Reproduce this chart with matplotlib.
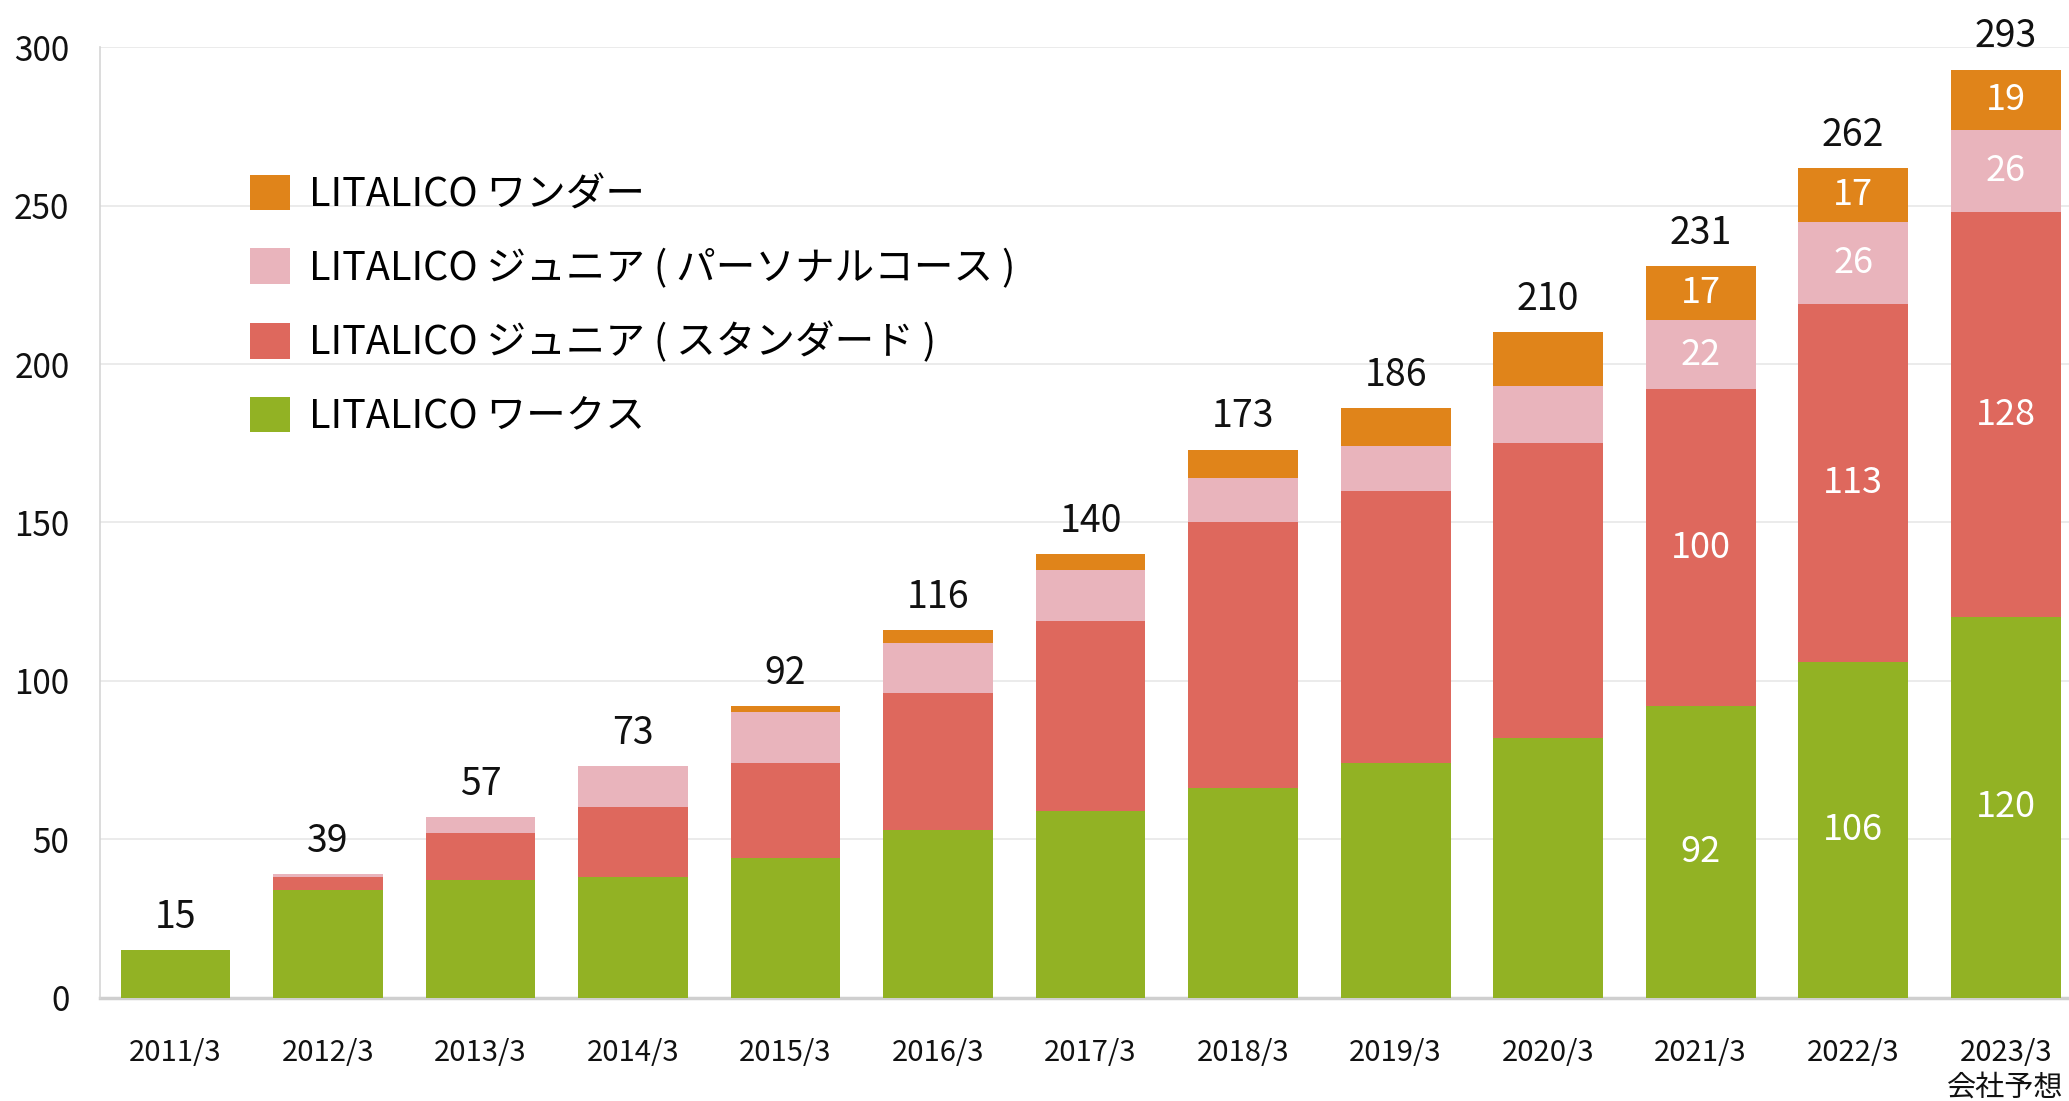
"""Stacked bar chart of LITALICO facility counts by business line.

Rebuilds the chart with matplotlib: four stacked series per fiscal year,
totals above each bar and white segment values on the latest three years.
"""

import matplotlib.pyplot as plt
import numpy as np

# ---------------------------------------------------------------------------
# Data
# ---------------------------------------------------------------------------
YEARS = [
    "2011/3", "2012/3", "2013/3", "2014/3", "2015/3", "2016/3", "2017/3",
    "2018/3", "2019/3", "2020/3", "2021/3", "2022/3", "2023/3\n会社予想",
]
WORKS = [15, 34, 37, 38, 44, 53, 59, 66, 74, 82, 92, 106, 120]
JUNIOR_STANDARD = [0, 4, 15, 22, 30, 43, 60, 84, 86, 93, 100, 113, 128]
JUNIOR_PERSONAL = [0, 1, 5, 13, 16, 16, 16, 14, 14, 18, 22, 26, 26]
WONDER = [0, 0, 0, 0, 2, 4, 5, 9, 12, 17, 17, 17, 19]
TOTALS = [15, 39, 57, 73, 92, 116, 140, 173, 186, 210, 231, 262, 293]

SERIES_LABELS = [
    "LITALICO ワークス",
    "LITALICO ジュニア ( スタンダード )",
    "LITALICO ジュニア ( パーソナルコース )",
    "LITALICO ワンダー",
]
# years whose segments carry a value label
LABELLED_YEARS = ["2021/3", "2022/3", "2023/3\n会社予想"]

# ---------------------------------------------------------------------------
# Style
# ---------------------------------------------------------------------------
COLORS = ["#92B224", "#DE685D", "#E9B4BC", "#E0841A"]
BAR_WIDTH = 0.72
FONT = ["Noto Sans CJK JP", "DejaVu Sans"]


def main() -> None:
    plt.rcParams["font.family"] = FONT

    fig = plt.figure(figsize=(20.69, 11.01), dpi=100)
    ax = fig.add_axes([0.0483, 0.094, 0.9517, 0.8629])

    x = np.arange(len(YEARS))
    series = [WORKS, JUNIOR_STANDARD, JUNIOR_PERSONAL, WONDER]
    bottom = np.zeros(len(YEARS))
    containers = []
    for values, color, label in zip(series, COLORS, SERIES_LABELS):
        values = np.asarray(values, dtype=float)
        bars = ax.bar(x, values, BAR_WIDTH, bottom=bottom, color=color,
                      label=label, linewidth=0, zorder=3)
        containers.append(bars)
        for i, year in enumerate(YEARS):
            if year in LABELLED_YEARS and values[i] > 0:
                ax.text(x[i], bottom[i] + values[i] / 2, f"{int(values[i])}",
                        ha="center", va="center", color="white",
                        fontsize=26, zorder=4)
        bottom += values

    # totals above each bar
    for xi, total in zip(x, TOTALS):
        ax.annotate(f"{total}", (xi, total), xytext=(0, 16),
                    textcoords="offset points", ha="center", va="baseline",
                    fontsize=27, color="#111111", annotation_clip=False)

    ax.set_xlim(-0.495, len(YEARS) - 1 + 0.415)
    ax.set_ylim(0, 300)
    ax.set_yticks(np.arange(0, 301, 50))
    ax.set_xticks(x)
    ax.set_xticklabels(YEARS, fontsize=21, linespacing=1.2)
    ax.tick_params(axis="x", length=0, pad=29, colors="#111111")
    ax.tick_params(axis="y", length=0, pad=22, labelsize=24, colors="#111111")

    ax.grid(axis="y", color="#E8E8E8", linewidth=1.2)
    ax.set_axisbelow(True)
    for side in ("top", "right"):
        ax.spines[side].set_visible(False)
    ax.spines["left"].set_color("#D5D5D5")
    ax.spines["left"].set_linewidth(1.2)
    ax.spines["bottom"].set_color("#CFCFCF")
    ax.spines["bottom"].set_linewidth(2.5)
    ax.spines["bottom"].set_zorder(2)

    ax.legend(containers[::-1], SERIES_LABELS[::-1], loc="upper left",
              bbox_to_anchor=(0.076, 0.866), frameon=False, fontsize=28.5,
              handlelength=1.01, handleheight=1.01, handletextpad=0.5,
              labelspacing=0.84, borderpad=0, borderaxespad=0)

    fig.savefig("out.png", dpi=100)
    plt.close(fig)


if __name__ == "__main__":
    main()
